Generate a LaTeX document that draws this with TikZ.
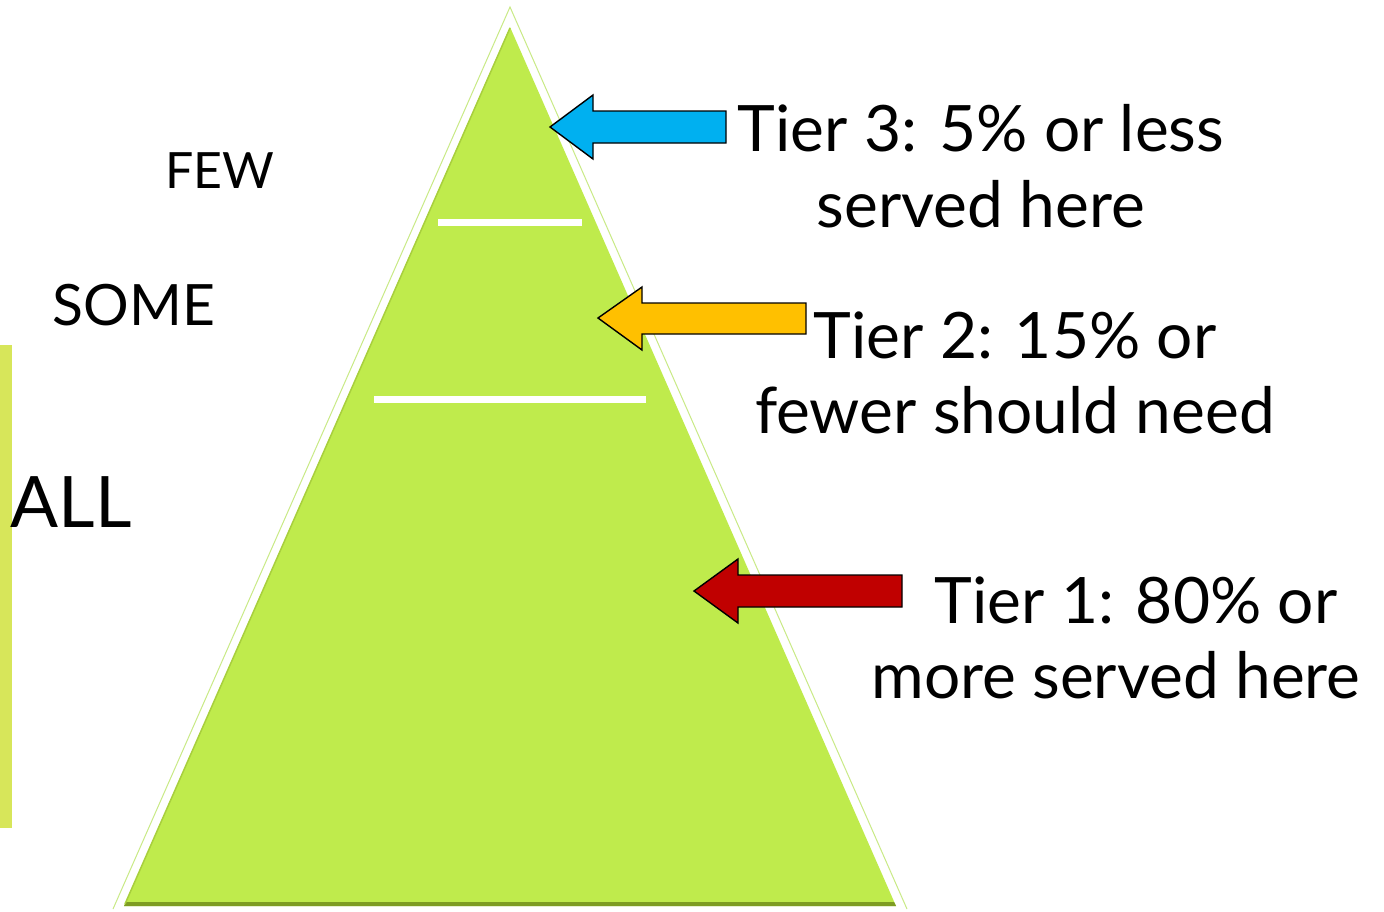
\documentclass[tikz,border=0pt]{standalone}
\usepackage{fontspec}
\setmainfont{Lato}
\definecolor{tri}{HTML}{BFEB4C}
\definecolor{trid}{HTML}{7E9C22}
\definecolor{triline}{HTML}{C9EA86}
\definecolor{barc}{HTML}{D7E65A}
\definecolor{blueA}{HTML}{00B0F0}
\definecolor{yelA}{HTML}{FFC000}
\definecolor{redA}{HTML}{C00000}
\tikzset{
  lbl/.style={anchor=base, inner sep=0pt, text=black},
  tier/.style={lbl, font=\fontsize{64}{75}\selectfont},
  bigarrow/.style={draw=black, line width=1.4pt, line join=miter},
  divider/.style={draw=white, line width=7pt},
}
\begin{document}
\begin{tikzpicture}[x=1pt,y=-1pt]
\useasboundingbox (0,0) rectangle (1384,911);
\fill[white] (0,0) rectangle (1384,911);
% left bar
\fill[barc] (0,345) rectangle (12,828);
% pyramid outline glow
\draw[triline, line width=1pt] (113,909) -- (510,7) -- (907,909);
% pyramid
\fill[tri] (124,906) -- (510,27) -- (896,906) -- cycle;
\fill[trid] (124,906) -- (126,902) -- (894,902) -- (896,906) -- cycle;
\draw[trid!35!tri, line width=1.5pt] (125,904) -- (510,28);
% dividers
\coordinate (d1a) at (438,222); \coordinate (d1b) at (582,222);
\coordinate (d2a) at (374,399); \coordinate (d2b) at (646,399);
\draw[divider] (d1a) -- (d1b);
\draw[divider] (d2a) -- (d2b);
% arrows
\draw[bigarrow, fill=blueA] (550,127) -- (593,95) -- (593,111) -- (726,111) -- (726,143) -- (593,143) -- (593,159) -- cycle;
\draw[bigarrow, fill=yelA] (598,318) -- (642,287) -- (642,303) -- (806,303) -- (806,334) -- (642,334) -- (642,350) -- cycle;
\draw[bigarrow, fill=redA] (694,591) -- (738,559) -- (738,575) -- (902,575) -- (902,607) -- (738,607) -- (738,623) -- cycle;
% left labels
\node[lbl, font=\fontsize{50}{60}\selectfont] (few) at (220,188) {FEW};
\node[lbl, font=\fontsize{57}{70}\selectfont] (some) at (134,325) {SOME};
\node[lbl, font=\fontsize{71}{80}\selectfont] (all) at (71,527) {ALL};
% tier labels
\node[tier] (t3a) at (981,151) {Tier 3: 5\% or less};
\node[tier] (t3b) at (981,227) {served here};
\node[tier] (t2a) at (1015,358) {Tier 2: 15\% or};
\node[tier] (t2b) at (1015,433) {fewer should need};
\node[tier] (t1a) at (1136,623) {Tier 1: 80\% or};
\node[tier] (t1b) at (1116,698) {more served here};
\end{tikzpicture}
\end{document}
